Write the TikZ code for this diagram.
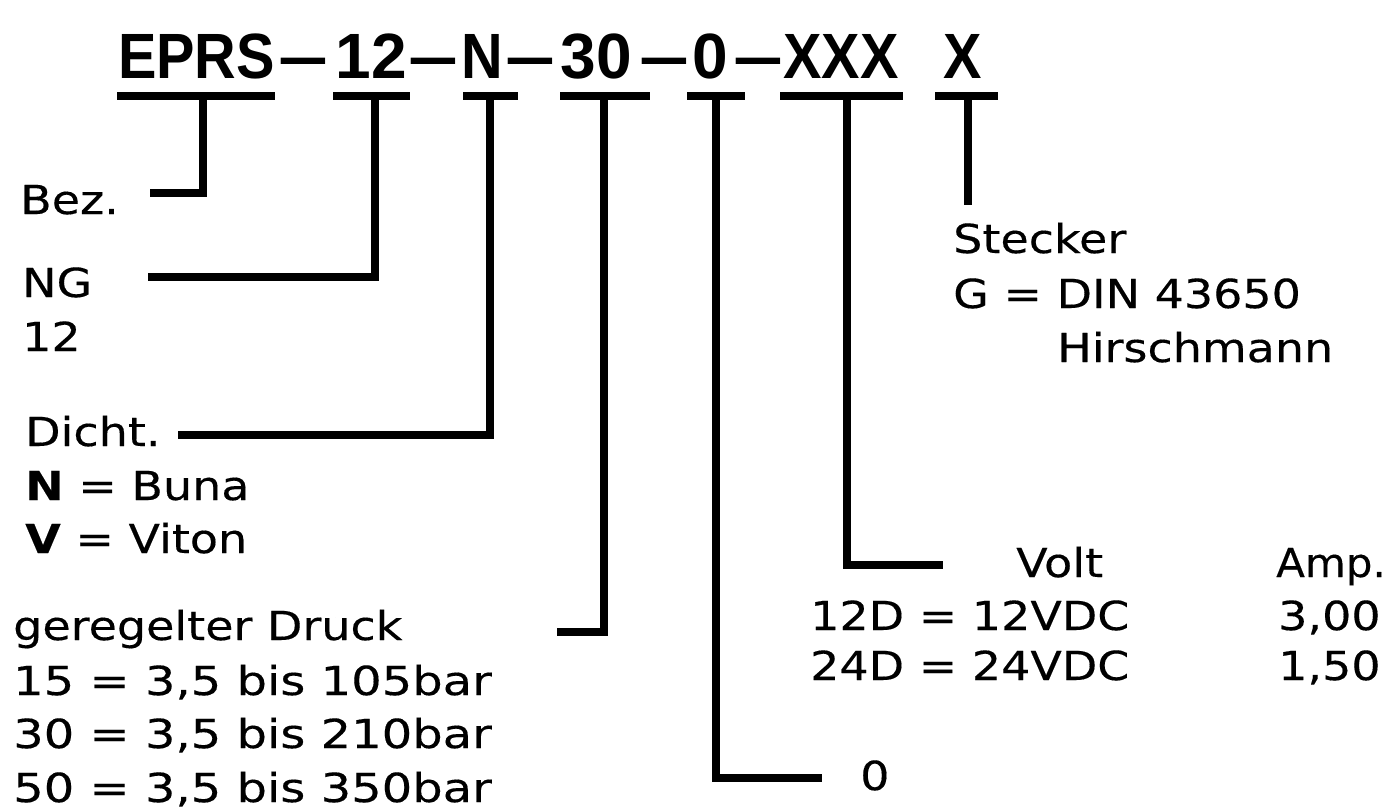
\documentclass[tikz,border=0pt]{standalone}
\usepackage{fontspec}
\newfontfamily\titlefont[FakeStretch=0.9]{Liberation Sans}
\newfontfamily\titledigits[FakeStretch=1.0]{Liberation Sans}
\newfontfamily\dashfont[FakeStretch=1.4]{Liberation Sans}
\newfontfamily\pixfont[FakeStretch=1.15,FakeBold=0.3]{DejaVu Sans}
\newfontfamily\pixwide[FakeStretch=1.2,FakeBold=0.3]{DejaVu Sans}
\newfontfamily\pixamp[FakeStretch=1.05,FakeBold=0.3]{DejaVu Sans}
\tikzset{
  ttl/.style={inner sep=0pt, anchor=base, font=\titlefont\bfseries\fontsize{64}{70}\selectfont},
  ttld/.style={inner sep=0pt, anchor=base, font=\titledigits\bfseries\fontsize{64}{70}\selectfont},
  tdash/.style={inner sep=0pt, anchor=base, font=\dashfont\bfseries\fontsize{64}{70}\selectfont},
  lbl/.style={inner sep=0pt, anchor=base west, font=\pixfont\fontsize{40}{46}\selectfont},
  lblw/.style={inner sep=0pt, anchor=base west, font=\pixwide\fontsize{40}{46}\selectfont},
  lbla/.style={inner sep=0pt, anchor=base west, font=\pixamp\fontsize{40}{46}\selectfont},
  bar/.style={line width=8pt, line cap=butt, line join=miter},
}
\begin{document}
\begin{tikzpicture}[x=1pt,y=-1pt]
\useasboundingbox (0,0) rectangle (1392,809);
\fill[white] (0,0) rectangle (1392,809);

% title pieces
\node[ttl] (pEPRS) at (196.5,78) {EPRS};
\node[tdash] (d1) at (303.5,78) {–};
\node[ttld] (p12) at (371.5,78) {12};
\node[tdash] (d2) at (433.5,78) {–};
\node[ttl] (pN) at (482.5,78) {N};
\node[tdash] (d3) at (530.5,78) {–};
\node[ttld] (p30) at (596.5,78) {30};
\node[tdash] (d4) at (664.5,78) {–};
\node[ttld] (p0) at (710,78) {0};
\node[tdash] (d5) at (758.5,78) {–};
\node[ttl] (pXXX) at (841,78) {XXX};
\node[ttl] (pX) at (962.5,78) {X};

% underline ends
\coordinate (uEa) at (117,96); \coordinate (uEb) at (275,96);
\coordinate (u12a) at (333,96); \coordinate (u12b) at (410,96);
\coordinate (uNa) at (463,96); \coordinate (uNb) at (518,96);
\coordinate (u30a) at (560,96); \coordinate (u30b) at (650,96);
\coordinate (u0a) at (687,96); \coordinate (u0b) at (745,96);
\coordinate (uXXXa) at (780,96); \coordinate (uXXXb) at (903,96);
\coordinate (uXa) at (935,96); \coordinate (uXb) at (998,96);
\foreach \a/\b in {uEa/uEb,u12a/u12b,uNa/uNb,u30a/u30b,u0a/u0b,uXXXa/uXXXb,uXa/uXb}
  \draw[bar] (\a) -- (\b);

% stems
\coordinate (sE) at (203,96);
\coordinate (s12) at (375,96);
\coordinate (sN) at (490,96);
\coordinate (s30) at (604,96);
\coordinate (s0) at (716,96);
\coordinate (sXXX) at (847,96);
\coordinate (sX) at (968,96);

% free ends
\coordinate (eE) at (150,193);
\coordinate (e12) at (148,277);
\coordinate (eN) at (178,435);
\coordinate (e30) at (557,632);
\coordinate (e0) at (822,778);
\coordinate (eXXX) at (943,565);
\coordinate (eX) at (968,205);

\draw[bar] (sE) |- (eE);
\draw[bar] (s12) |- (e12);
\draw[bar] (sN) |- (eN);
\draw[bar] (s30) |- (e30);
\draw[bar] (s0) |- (e0);
\draw[bar] (sXXX) |- (eXXX);
\draw[bar] (sX) -- (eX);

% labels left
\node[lbl] (bez) at (20,214) {Bez.};
\node[lbl] (ng) at (22,297) {NG};
\node[lbl] (ng12) at (22,351) {12};
\node[lbl] (dicht) at (25,446) {Dicht.};
\node[lbl] (buna) at (25,500) {\textbf{N} = Buna};
\node[lbl] (viton) at (25,553) {\textbf{V} = Viton};
\node[lbl] (druck) at (13,640) {geregelter Druck};
\node[lblw] (d15) at (13,695) {15 = 3,5 bis 105bar};
\node[lblw] (d30) at (13,748) {30 = 3,5 bis 210bar};
\node[lblw] (d50) at (13,802) {50 = 3,5 bis 350bar};
\node[lbl] (null) at (860,790) {0};

% labels right
\node[lbl] (stecker) at (953,253) {Stecker};
\node[lbl] (din) at (953,308) {G = DIN 43650};
\node[lbl] (hirsch) at (1057,362) {Hirschmann};
\node[lbl] (volt) at (1016,577) {Volt};
\node[lbla] (amp) at (1276,577) {Amp.};
\node[lbl] (v12) at (810,630) {12D = 12VDC};
\node[lbl] (v24) at (810,680) {24D = 24VDC};
\node[lbl] (a12) at (1278,630) {3,00};
\node[lbl] (a24) at (1278,680) {1,50};
\end{tikzpicture}
\end{document}
